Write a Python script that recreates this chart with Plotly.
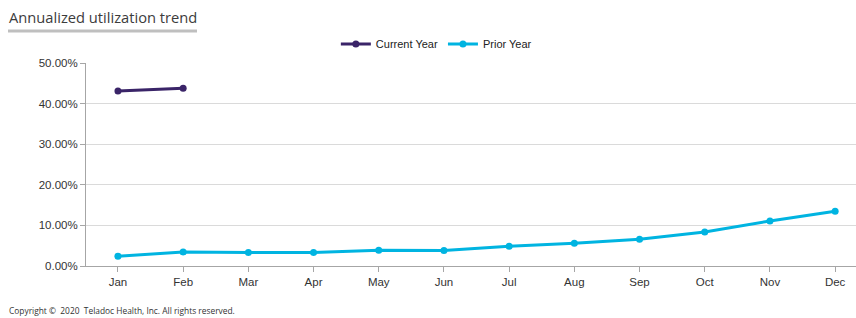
import plotly.graph_objects as go

months = ["Jan", "Feb", "Mar", "Apr", "May", "Jun", "Jul", "Aug", "Sep", "Oct", "Nov", "Dec"]
current_year = [43.1, 43.8]
prior_year = [2.4, 3.45, 3.3, 3.35, 3.9, 3.8, 4.85, 5.6, 6.6, 8.4, 11.1, 13.5]
y_ticks = [0, 10, 20, 30, 40, 50]
y_tick_labels = ["0.00%", "10.00%", "20.00%", "30.00%", "40.00%", "50.00%"]

fig = go.Figure()
fig.add_trace(go.Scatter(
    x=months[:len(current_year)], y=current_year, name="Current Year",
    mode="lines+markers",
    line=dict(color="#3a2468", width=3),
    marker=dict(color="#3a2468", size=7),
))
fig.add_trace(go.Scatter(
    x=months, y=prior_year, name="Prior Year",
    mode="lines+markers",
    line=dict(color="#00b4e1", width=3),
    marker=dict(color="#00b4e1", size=7),
))

fig.update_layout(
    width=856, height=318,
    margin=dict(l=86, r=0, t=63, b=52, autoexpand=False),
    paper_bgcolor="white", plot_bgcolor="white",
    font=dict(family="Liberation Sans, Arial, sans-serif", size=11, color="#333333"),
    showlegend=True,
    legend=dict(
        orientation="h", x=0.455, xanchor="center",
        y=1 - 44 / 318, yref="container", yanchor="middle",
        itemwidth=30, tracegroupgap=0,
        font=dict(size=11, color="#222222"),
        traceorder="normal",
    ),
    xaxis=dict(
        type="category", categoryorder="array", categoryarray=months,
        range=[-0.49, 11.32],
        showgrid=False, showline=True, linecolor="#a6a6a6", linewidth=1,
        ticks="outside", ticklen=5, tickcolor="#a6a6a6",
        tickfont=dict(size=11.5, color="#333333"),
        fixedrange=True, automargin=False,
    ),
    yaxis=dict(
        range=[0, 50], tickvals=y_ticks, ticktext=y_tick_labels,
        showgrid=True, gridcolor="#dadada", gridwidth=1,
        showline=True, linecolor="#a6a6a6", linewidth=1,
        ticks="outside", ticklen=5, tickcolor="#a6a6a6",
        tickfont=dict(size=11.5, color="#333333"),
        zeroline=False, fixedrange=True, automargin=False,
    ),
)

fig.add_annotation(
    text="Annualized utilization trend", xref="paper", yref="paper",
    x=(7 - 86) / 770, y=1 + (63 - 17) / 203, xanchor="left", yanchor="middle",
    showarrow=False, font=dict(family="Open Sans, sans-serif", size=14.7, color="#3c3c3c"),
)
fig.add_shape(
    type="rect", xref="paper", yref="paper",
    x0=(8 - 86) / 770, x1=(197 - 86) / 770,
    y0=1 + (63 - 32.5) / 203, y1=1 + (63 - 29.5) / 203,
    fillcolor="#bfbfbf", line=dict(width=0),
)
fig.add_annotation(
    text="Copyright ©  2020  Teladoc Health, Inc. All rights reserved.",
    xref="paper", yref="paper",
    x=(7 - 86) / 770, y=-(310 - 266) / 203, xanchor="left", yanchor="middle",
    showarrow=False, font=dict(family="Open Sans, sans-serif", size=8.4, color="#333333"),
)

fig.write_html(
    "out.html",
    config={"displayModeBar": False},
    post_script="document.body.style.margin='0';document.body.style.overflow='hidden';",
)
